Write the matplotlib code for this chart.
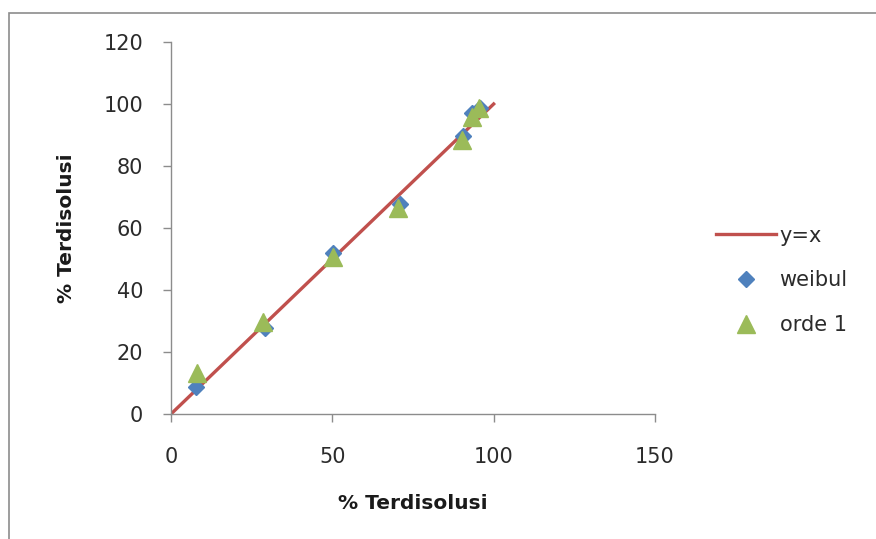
import numpy as np
import matplotlib.pyplot as plt
from matplotlib.patches import Rectangle

plt.rcParams['font.family'] = ['DejaVu Sans']

# data
weibul_x = [7.7, 29.1, 50.3, 71.0, 90.5, 93.3, 95.8]
weibul_y = [8.7, 27.7, 51.9, 67.7, 89.7, 97.0, 98.7]
orde1_x = [8.0, 28.5, 50.2, 70.3, 90.2, 93.3, 95.5]
orde1_y = [13.2, 29.7, 50.6, 66.5, 88.4, 95.8, 98.7]
line_x = [0, 100]
line_y = [0, 100]

fig = plt.figure(figsize=(8.76, 5.39), dpi=100)
ax = fig.add_axes([0.1952, 0.2319, 0.7477 - 0.1952, 0.9221 - 0.2319])

# outer chart border (Excel style)
fig.patches.append(Rectangle((9 / 876, -0.05), 1.1, 1 - 13 / 539 + 0.05,
                             transform=fig.transFigure, fill=False,
                             edgecolor='#8c8c8c', linewidth=1.2))

ax.plot(line_x, line_y, color='#C0504D', linewidth=2.4, label='y=x', zorder=2)
ax.plot(weibul_x, weibul_y, linestyle='none', marker='D', markersize=8.5,
        color='#4F81BD', label='weibul', zorder=3)
ax.plot(orde1_x, orde1_y, linestyle='none', marker='^', markersize=12.5,
        color='#9BBB59', label='orde 1', zorder=4)

ax.set_xlim(0, 150)
ax.set_ylim(0, 120)
ax.set_xticks([0, 50, 100, 150])
ax.set_yticks(np.arange(0, 121, 20))

for s in ['top', 'right']:
    ax.spines[s].set_visible(False)
for s in ['left', 'bottom']:
    ax.spines[s].set_color('#8c8c8c')
    ax.spines[s].set_linewidth(1.0)
ax.tick_params(colors='#8c8c8c', labelcolor='#2b2b2b', labelsize=15,
               length=6, width=1.0)
ax.tick_params(axis='y', pad=14)
ax.tick_params(axis='x', pad=17.5)

ax.set_xlabel('% Terdisolusi', fontsize=14.5, fontweight='bold',
              labelpad=20, color='#1a1a1a')
ax.set_ylabel('% Terdisolusi', fontsize=14.5, fontweight='bold',
              labelpad=20, color='#1a1a1a')

leg = ax.legend(loc='center left', bbox_to_anchor=(716 / 876, 1 - 280.5 / 539),
                bbox_transform=fig.transFigure, frameon=False, fontsize=15,
                handlelength=2.9, handletextpad=0.15, labelspacing=1.19,
                borderaxespad=0, borderpad=0)
for t in leg.get_texts():
    t.set_color('#2b2b2b')

plt.savefig('out.png', dpi=100)
